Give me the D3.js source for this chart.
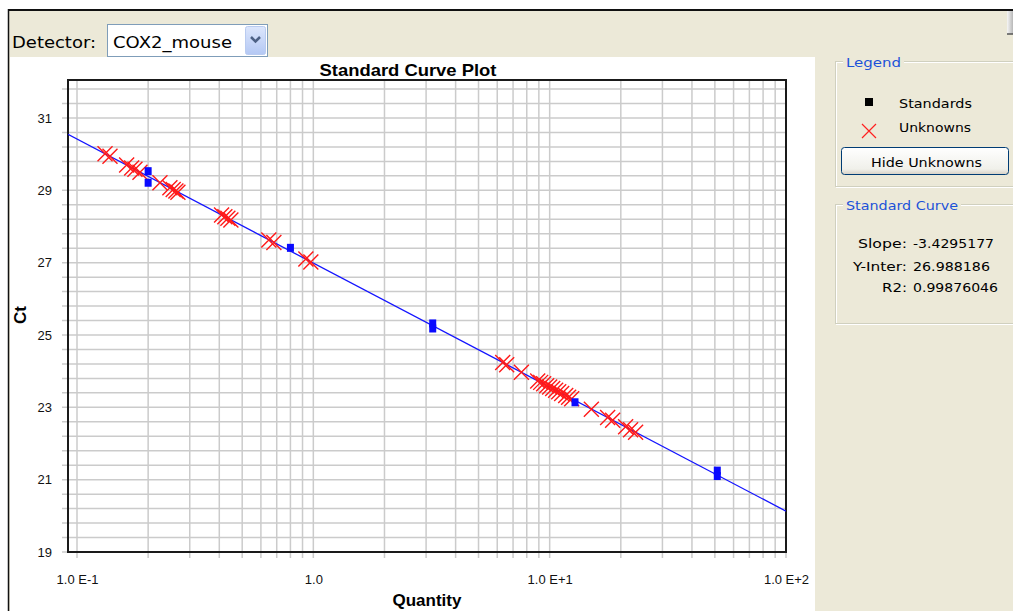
<!DOCTYPE html>
<html>
<head>
<meta charset="utf-8">
<script src="https://cdn.jsdelivr.net/npm/d3@7"></script>
<style>
  html, body { margin: 0; padding: 0; background: #fff; }
  svg { display: block; }
  .ui { font-family: "DejaVu Sans", Verdana, sans-serif; }
  .plot { font-family: "Liberation Sans", Arial, sans-serif; }
</style>
</head>
<body>
<svg id="chart" width="1013" height="611"></svg>
<script>
// ---- data -------------------------------------------------------------
const detectorName = "COX2_mouse";

// Standard curve fit
const curveSlope = -3.4295177;
const curveIntercept = 26.988186;
const curveR2 = 0.99876046;

// Standards (4-fold dilution series, replicates)
const standardQty = [0.2, 0.2, 0.8, 3.2, 3.2, 12.8, 51.2, 51.2];
const standardCt  = [29.53, 29.21, 27.41, 25.32, 25.18, 23.14, 21.25, 21.10];

// Unknown samples
const unknownQty = [0.1314, 0.1379, 0.1622, 0.1703, 0.1759, 0.1847, 0.2244, 0.2472,
  0.2553, 0.2621, 0.2673, 0.4090, 0.4223, 0.4349, 0.4478, 0.6481, 0.6808, 0.9297,
  0.9759, 6.328, 6.579, 7.592, 8.898, 9.161, 9.432, 9.712, 10.0, 10.30, 10.60,
  10.92, 11.24, 11.69, 12.03, 12.39, 15.01, 17.59, 18.47, 20.96, 22.00, 23.10];
const unknownCt = [30.01, 29.94, 29.70, 29.62, 29.58, 29.50, 29.21, 29.07,
  29.02, 28.98, 28.95, 28.32, 28.27, 28.23, 28.18, 27.63, 27.56, 27.10,
  27.02, 24.24, 24.18, 23.97, 23.73, 23.69, 23.65, 23.60, 23.56, 23.52, 23.47,
  23.43, 23.38, 23.33, 23.28, 23.24, 22.95, 22.72, 22.64, 22.46, 22.38, 22.31];

// Axis ticks
const xLabelTicks = [0.1, 1, 10, 100];
const xTickLabels = ["1.0 E-1", "1.0", "1.0 E+1", "1.0 E+2"];
const yLabelTicks = [19, 21, 23, 25, 27, 29, 31];

// ---- drawing ----------------------------------------------------------
const svg = d3.select("#chart");
const defs = svg.append("defs");
const BEIGE = "#ECE9D8";

// window background and border
svg.append("rect").attr("x", 9).attr("y", 10).attr("width", 1004).attr("height", 601).attr("fill", BEIGE);
svg.append("line").attr("x1", 8).attr("x2", 1013).attr("y1", 10).attr("y2", 10)
  .attr("stroke", "#111").attr("stroke-width", 2);
svg.append("line").attr("x1", 8.5).attr("x2", 8.5).attr("y1", 9).attr("y2", 611)
  .attr("stroke", "#111").attr("stroke-width", 1.5);

// scrollbar stub top-right
const sbGrad = defs.append("linearGradient").attr("id", "sbg")
  .attr("x1", 0).attr("x2", 1).attr("y1", 0).attr("y2", 0);
sbGrad.append("stop").attr("offset", 0).attr("stop-color", "#f6f6f6");
sbGrad.append("stop").attr("offset", 1).attr("stop-color", "#b8b8b8");
svg.append("rect").attr("x", 1007).attr("y", 11).attr("width", 6).attr("height", 23).attr("fill", "url(#sbg)");
svg.append("line").attr("x1", 1007).attr("x2", 1013).attr("y1", 34).attr("y2", 34).attr("stroke", "#555").attr("stroke-width", 1.5);

// detector selector
svg.append("text").attr("class", "ui").attr("x", 12).attr("y", 48)
  .attr("font-size", 16).attr("textLength", 84).attr("lengthAdjust", "spacingAndGlyphs")
  .text("Detector:");
svg.append("rect").attr("x", 107.5).attr("y", 24.5).attr("width", 160).attr("height", 32)
  .attr("fill", "#fff").attr("stroke", "#7F9DB9");
svg.append("text").attr("class", "ui").attr("x", 113).attr("y", 48)
  .attr("font-size", 16).attr("textLength", 119).attr("lengthAdjust", "spacingAndGlyphs")
  .text(detectorName);
const btnGrad = defs.append("linearGradient").attr("id", "cbg")
  .attr("x1", 0).attr("x2", 0).attr("y1", 0).attr("y2", 1);
btnGrad.append("stop").attr("offset", 0).attr("stop-color", "#DCE6FC");
btnGrad.append("stop").attr("offset", 1).attr("stop-color", "#B4C8F4");
svg.append("rect").attr("x", 245.5).attr("y", 26.5).attr("width", 20).attr("height", 28).attr("rx", 2)
  .attr("fill", "url(#cbg)").attr("stroke", "#B9CBF0");
svg.append("path").attr("d", "M251,37 L255.5,41.5 L260,37").attr("fill", "none")
  .attr("stroke", "#4D6185").attr("stroke-width", 2.5);

// white plot panel
svg.append("rect").attr("x", 10).attr("y", 57).attr("width", 805).attr("height", 554).attr("fill", "#fff");

// ---- plot area ----
const frame = { left: 68, right: 786, top: 80, bottom: 552 };
const x = d3.scaleLog().domain([0.1, 100]).range([77, 786]);
const y = d3.scaleLinear().domain([19, 31]).range([552, 118]);

const g = svg.append("g").attr("class", "plot");

// vertical grid (log minor lines)
const xGrid = [];
[0.1, 1, 10].forEach(dec => { for (let k = 1; k <= 9; k++) xGrid.push(+(dec * k).toPrecision(3)); });
xGrid.push(100);
g.append("g").selectAll("line").data(xGrid).join("line")
  .attr("x1", d => x(d)).attr("x2", d => x(d))
  .attr("y1", frame.top).attr("y2", frame.bottom + 6)
  .attr("stroke", "#CBCBCB").attr("stroke-width", 1.5);

// horizontal grid every 0.4 Ct
const yGrid = d3.range(0, 33).map(k => +(19 + 0.4 * k).toFixed(1));
g.append("g").selectAll("line").data(yGrid).join("line")
  .attr("x1", frame.left - 6).attr("x2", frame.right)
  .attr("y1", d => y(d)).attr("y2", d => y(d))
  .attr("stroke", "#CBCBCB").attr("stroke-width", 1.5);

// axes labels
const yAxis = d3.axisLeft(y).tickValues(yLabelTicks).tickSize(0).tickPadding(16).tickFormat(d3.format("d"));
const yAx = g.append("g").attr("transform", `translate(${frame.left},0)`).call(yAxis);
yAx.select(".domain").remove();
yAx.selectAll("text").attr("font-size", 13).attr("fill", "#111").attr("font-family", "Liberation Sans, Arial, sans-serif");

const xAxis = d3.axisBottom(x).tickValues(xLabelTicks).tickSize(0).tickPadding(23)
  .tickFormat((d, i) => xTickLabels[i]);
const xAx = g.append("g").attr("transform", `translate(0,${frame.bottom})`).call(xAxis);
xAx.select(".domain").remove();
xAx.selectAll("text").attr("font-size", 13).attr("fill", "#111").attr("font-family", "Liberation Sans, Arial, sans-serif");

// frame
g.append("rect").attr("x", frame.left).attr("y", frame.top)
  .attr("width", frame.right - frame.left).attr("height", frame.bottom - frame.top)
  .attr("fill", "none").attr("stroke", "#1a1a1a").attr("stroke-width", 2);

// titles
g.append("text").attr("x", 408).attr("y", 76).attr("text-anchor", "middle")
  .attr("font-size", 17).attr("font-weight", "bold").attr("textLength", 177)
  .attr("lengthAdjust", "spacingAndGlyphs").text("Standard Curve Plot");
g.append("text").attr("x", 427).attr("y", 606).attr("text-anchor", "middle")
  .attr("font-size", 17).attr("font-weight", "bold").text("Quantity");
g.append("text").attr("transform", "translate(26,315) rotate(-90)").attr("text-anchor", "middle")
  .attr("font-size", 17).attr("font-weight", "bold").text("Ct");

// clip region for data
defs.append("clipPath").attr("id", "plotClip").append("rect")
  .attr("x", frame.left).attr("y", frame.top)
  .attr("width", frame.right - frame.left).attr("height", frame.bottom - frame.top);
const dataG = g.append("g").attr("clip-path", "url(#plotClip)");

// fitted line
const qMin = x.invert(frame.left), qMax = 100;
const lineData = [qMin, qMax].map(q => ({ q, ct: curveIntercept + curveSlope * Math.log10(q) }));
dataG.append("path").datum(lineData)
  .attr("d", d3.line().x(d => x(d.q)).y(d => y(d.ct)))
  .attr("fill", "none").attr("stroke", "#1414FF").attr("stroke-width", 1.3);

// unknowns (red crosses)
const unknowns = unknownQty.map((q, i) => ({ q, ct: unknownCt[i] }));
const xs = 7.5;
dataG.append("g").selectAll("path").data(unknowns).join("path")
  .attr("d", d => {
    const cx = x(d.q), cy = y(d.ct);
    return `M${cx - xs},${cy - xs}L${cx + xs},${cy + xs}M${cx - xs},${cy + xs}L${cx + xs},${cy - xs}`;
  })
  .attr("fill", "none").attr("stroke", "#FF1A1A").attr("stroke-width", 1.4);

// standards (blue squares)
const standards = standardQty.map((q, i) => ({ q, ct: standardCt[i] }));
dataG.append("g").selectAll("rect").data(standards).join("rect")
  .attr("x", d => x(d.q) - 3.5).attr("y", d => y(d.ct) - 4)
  .attr("width", 7).attr("height", 8).attr("fill", "#0A0AFF");

// ---- side panel ----
const side = svg.append("g").attr("class", "ui");

function groupBox(x0, y0, w, h, title, titleLen) {
  side.append("rect").attr("x", x0 + 1.5).attr("y", y0 + 1.5).attr("width", w).attr("height", h)
    .attr("fill", "none").attr("stroke", "#fff");
  side.append("rect").attr("x", x0 + 0.5).attr("y", y0 + 0.5).attr("width", w).attr("height", h)
    .attr("fill", "none").attr("stroke", "#D0D0BF");
  side.append("rect").attr("x", x0 + 8).attr("y", y0 - 6).attr("width", titleLen + 6).attr("height", 12).attr("fill", BEIGE);
  side.append("text").attr("x", x0 + 11).attr("y", y0 + 6).attr("font-size", 13)
    .attr("fill", "#1C52D8").attr("textLength", titleLen).attr("lengthAdjust", "spacingAndGlyphs").text(title);
}

groupBox(835, 61, 200, 125, "Legend", 55);
side.append("rect").attr("x", 865).attr("y", 98).attr("width", 8).attr("height", 8).attr("fill", "#000");
side.append("text").attr("x", 899).attr("y", 107.5).attr("font-size", 13)
  .attr("textLength", 73).attr("lengthAdjust", "spacingAndGlyphs").text("Standards");
side.append("path").attr("d", "M862,124 L876,138 M862,138 L876,124")
  .attr("stroke", "#FF2020").attr("stroke-width", 1.2).attr("fill", "none");
side.append("text").attr("x", 899).attr("y", 132).attr("font-size", 13)
  .attr("textLength", 72).attr("lengthAdjust", "spacingAndGlyphs").text("Unknowns");

const hbGrad = defs.append("linearGradient").attr("id", "hbg")
  .attr("x1", 0).attr("x2", 0).attr("y1", 0).attr("y2", 1);
hbGrad.append("stop").attr("offset", 0).attr("stop-color", "#FFFFFF");
hbGrad.append("stop").attr("offset", 0.8).attr("stop-color", "#F0F0EA");
hbGrad.append("stop").attr("offset", 1).attr("stop-color", "#D6D0C5");
side.append("rect").attr("x", 841.5).attr("y", 147.5).attr("width", 167).attr("height", 27).attr("rx", 3)
  .attr("fill", "url(#hbg)").attr("stroke", "#003C74");
side.append("text").attr("x", 871).attr("y", 166.5).attr("font-size", 13)
  .attr("textLength", 111).attr("lengthAdjust", "spacingAndGlyphs").text("Hide Unknowns");

groupBox(835, 204, 200, 119, "Standard Curve", 112);
const statLabels = ["Slope:", "Y-Inter:", "R2:"];
const statLabelLen = [49, 54, 25];
const statValues = [curveSlope.toFixed(7), curveIntercept.toFixed(6), curveR2.toFixed(8)];
const statValueLen = [81, 77, 85];
const statY = [248, 270.5, 291.5];
statLabels.forEach((lab, i) => {
  side.append("text").attr("x", 907 - statLabelLen[i]).attr("y", statY[i]).attr("font-size", 13)
    .attr("textLength", statLabelLen[i]).attr("lengthAdjust", "spacingAndGlyphs").text(lab);
  side.append("text").attr("x", 913).attr("y", statY[i]).attr("font-size", 13)
    .attr("textLength", statValueLen[i]).attr("lengthAdjust", "spacingAndGlyphs").text(statValues[i]);
});
</script>
</body>
</html>
